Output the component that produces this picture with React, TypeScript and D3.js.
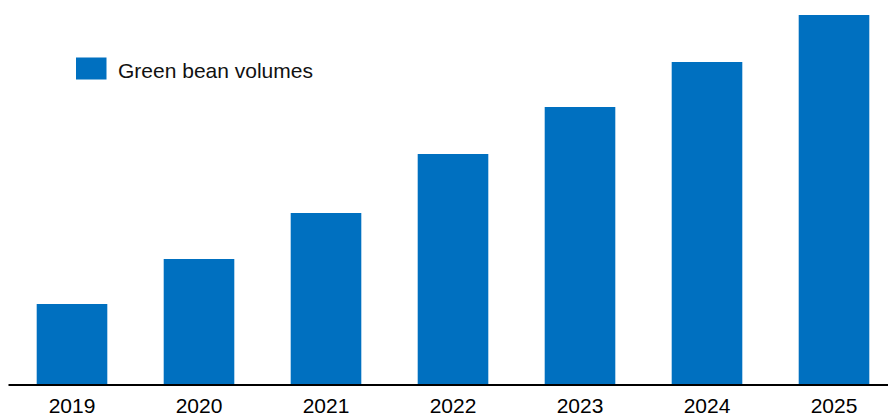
import React from "react";
import * as d3 from "d3";

const categories = ["2019", "2020", "2021", "2022", "2023", "2024", "2025"];
const volumes = [80, 125, 171, 230, 277, 322, 369];
const seriesName = "Green bean volumes";

const W = 888;
const H = 414;
const BLUE = "#0070C0";

export default function App() {
  const x = d3
    .scaleBand<string>()
    .domain(categories)
    .range([8.5, 897.5])
    .paddingInner(0.444)
    .paddingOuter(0.222);
  const y = d3.scaleLinear().domain([0, 400]).range([384, -16]);
  const font = "Arial, 'Liberation Sans', sans-serif";

  return (
    <svg
      width={W}
      height={H}
      style={{ position: "fixed", left: 0, top: 0, display: "block", background: "#fff" }}
    >
      {categories.map((c, i) => (
        <rect
          key={c}
          x={x(c)}
          y={y(volumes[i])}
          width={x.bandwidth()}
          height={y(0) - y(volumes[i])}
          fill={BLUE}
        />
      ))}
      <line x1={8.5} x2={W} y1={385} y2={385} stroke="#000" strokeWidth={2} />
      {categories.map((c) => (
        <text
          key={c}
          x={(x(c) as number) + x.bandwidth() / 2}
          y={413}
          textAnchor="middle"
          fontFamily={font}
          fontSize={21}
          fill="#000"
        >
          {c}
        </text>
      ))}
      <rect x={76} y={57.5} width={30.5} height={22} fill={BLUE} />
      <text x={118} y={77.5} fontFamily={font} fontSize={21} fill="#111">
        {seriesName}
      </text>
    </svg>
  );
}
